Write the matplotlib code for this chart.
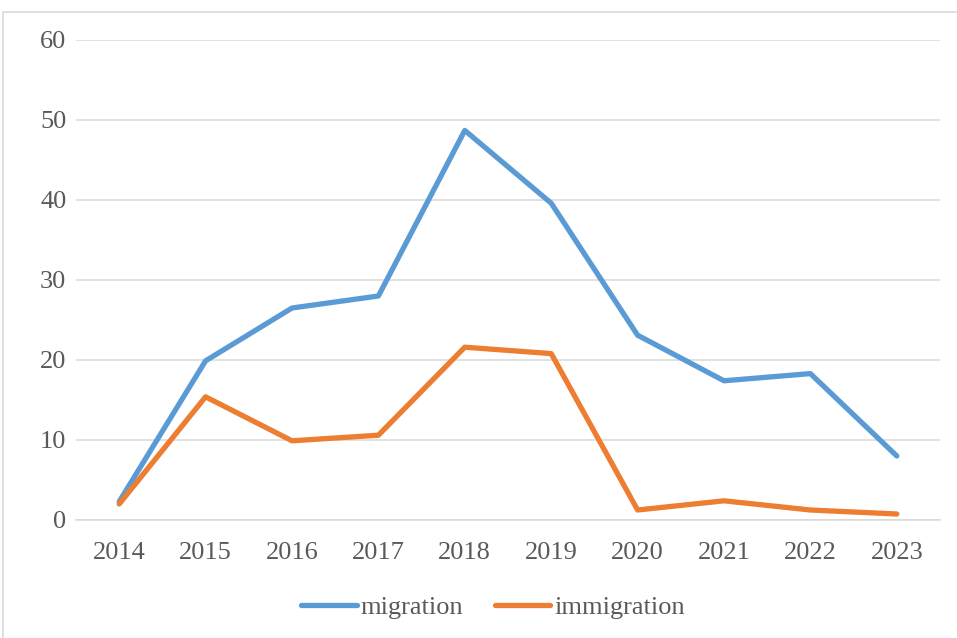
import matplotlib.pyplot as plt
from matplotlib.patches import Rectangle

# Data
years = ['2014', '2015', '2016', '2017', '2018', '2019', '2020', '2021', '2022', '2023']
migration = [2.3, 19.9, 26.5, 28.0, 48.7, 39.6, 23.1, 17.4, 18.3, 8.0]
immigration = [2.0, 15.4, 9.9, 10.6, 21.6, 20.8, 1.25, 2.4, 1.25, 0.75]

plt.rcParams['font.family'] = ['Liberation Serif', 'DejaVu Serif']

fig = plt.figure(figsize=(9.57, 6.38), dpi=100)
ax = fig.add_axes([76 / 957, 1 - 520 / 638, (940 - 76) / 957, 480 / 638])

x = range(len(years))
ax.plot(x, migration, color='#5B9BD5', lw=3.8, label='migration', solid_joinstyle='round', solid_capstyle='round')
ax.plot(x, immigration, color='#ED7D31', lw=3.8, label='immigration', solid_joinstyle='round', solid_capstyle='round')

ax.set_xlim(-0.5, len(years) - 0.5)
ax.set_ylim(0, 60)
ax.set_yticks(range(0, 61, 10))
ax.set_xticks(list(x))
ax.set_xticklabels(years)

ax.grid(axis='y', color='#D9D9D9', lw=1.1)
ax.set_axisbelow(True)
for s in ['top', 'right', 'left']:
    ax.spines[s].set_visible(False)
ax.spines['bottom'].set_color('#D9D9D9')
ax.spines['bottom'].set_linewidth(1.1)
ax.tick_params(axis='both', length=0, labelsize=19, colors='#595959')
ax.tick_params(axis='x', pad=16)
ax.tick_params(axis='y', pad=7)

leg = fig.legend(loc='center', bbox_to_anchor=(493 / 957, 1 - 607 / 638), ncol=2,
                 frameon=False, fontsize=19, handlelength=2.1, handletextpad=0.15,
                 columnspacing=1.2)
for t in leg.get_texts():
    t.set_color('#595959')

# chart border (top and left edges visible)
fig.patches.append(Rectangle((3 / 957, -0.05), 1.1, 1 - 12 / 638 + 0.05, transform=fig.transFigure,
                             fill=False, edgecolor='#D9D9D9', lw=1.2))

fig.savefig('out.png', dpi=100)
